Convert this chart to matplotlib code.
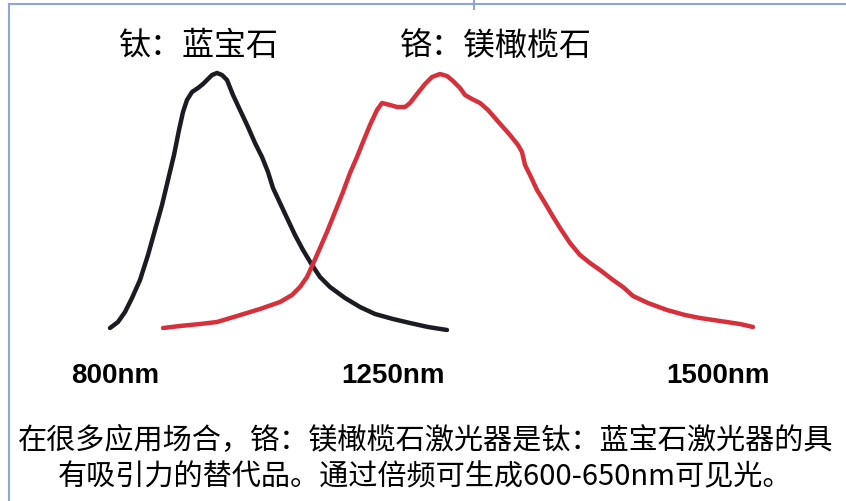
import matplotlib.pyplot as plt
from matplotlib.lines import Line2D

# spectra: horizontal position (px), height (px from top)
ti_x = [110, 118, 125, 132, 140, 148, 155, 162, 168, 174, 179, 183, 187, 192, 198,
        203, 207, 212, 217, 222, 227, 233, 240, 248, 255, 262, 268, 273, 280, 287,
        295, 303, 312, 320, 330, 345, 360, 375, 393, 410, 428, 447]
ti_y = [328, 322, 312, 298, 280, 255, 230, 205, 180, 155, 130, 112, 100, 92, 88,
        84, 80, 75, 73, 75, 80, 95, 110, 127, 143, 157, 172, 188, 203, 218,
        235, 250, 265, 277, 287, 298, 307, 314, 319, 323, 327, 330]

cr_x = [163, 180, 200, 217, 237, 260, 280, 292, 300, 307, 313, 320, 327, 335, 343,
        350, 357, 363, 370, 377, 382, 390, 397, 405, 410, 417, 425, 432, 440, 447,
        453, 460, 465, 472, 480, 488, 495, 502, 510, 518, 522, 525, 530, 537, 545,
        552, 560, 570, 580, 590, 600, 613, 623, 633, 648, 667, 685, 700, 720, 740, 753]
cr_y = [328, 326, 324, 322, 316, 309, 302, 295, 287, 277, 264, 248, 232, 212, 192,
        173, 157, 142, 125, 110, 103, 105, 107, 107, 103, 94, 84, 77, 74, 76,
        81, 88, 95, 99, 103, 110, 118, 126, 135, 145, 152, 165, 175, 190, 203,
        215, 228, 243, 255, 263, 270, 280, 287, 296, 303, 310, 315, 318, 321, 324, 327]

labels = ['钛：蓝宝石', '铬：镁橄榄石']
tick_pos = [115, 393, 718]
tick_labels = ['800nm', '1250nm', '1500nm']
note = ['在很多应用场合，铬：镁橄榄石激光器是钛：蓝宝石激光器的具',
        '有吸引力的替代品。通过倍频可生成600-650nm可见光。']

plt.rcParams['font.family'] = ['Noto Sans CJK SC', 'DejaVu Sans']

fig = plt.figure(figsize=(8.46, 5.01), dpi=100)
ax = fig.add_axes([0, 0, 1, 1])
ax.set_xlim(0, 846)
ax.set_ylim(501, 0)
ax.axis('off')

ax.plot(ti_x, ti_y, color='#1b1b24', lw=3.2, solid_capstyle='round', solid_joinstyle='round')
ax.plot(cr_x, cr_y, color='#d8303b', lw=3.2, solid_capstyle='round', solid_joinstyle='round')

ax.text(199, 46, labels[0], fontsize=23, ha='center', va='center', color='black')
ax.text(496, 46, labels[1], fontsize=23, ha='center', va='center', color='black')

for p, t in zip(tick_pos, tick_labels):
    ax.text(p, 376, t, fontsize=20, fontweight='bold', family='Liberation Sans',
            ha='center', va='center', color='black')

ax.text(426, 440, note[0], fontsize=21, ha='center', va='center', color='black')
ax.text(425, 477, note[1], fontsize=21, ha='center', va='center', color='black')

# frame lines of the slide
bc = '#8ea6da'
fig.add_artist(Line2D([9 / 846, 1], [1 - 4 / 501] * 2, color=bc, lw=1.5))
fig.add_artist(Line2D([9 / 846] * 2, [0, 1 - 4 / 501], color=bc, lw=1.5))
fig.add_artist(Line2D([474 / 846] * 2, [1 - 9 / 501, 1], color=bc, lw=1.5))

fig.savefig('out.png', dpi=100)
